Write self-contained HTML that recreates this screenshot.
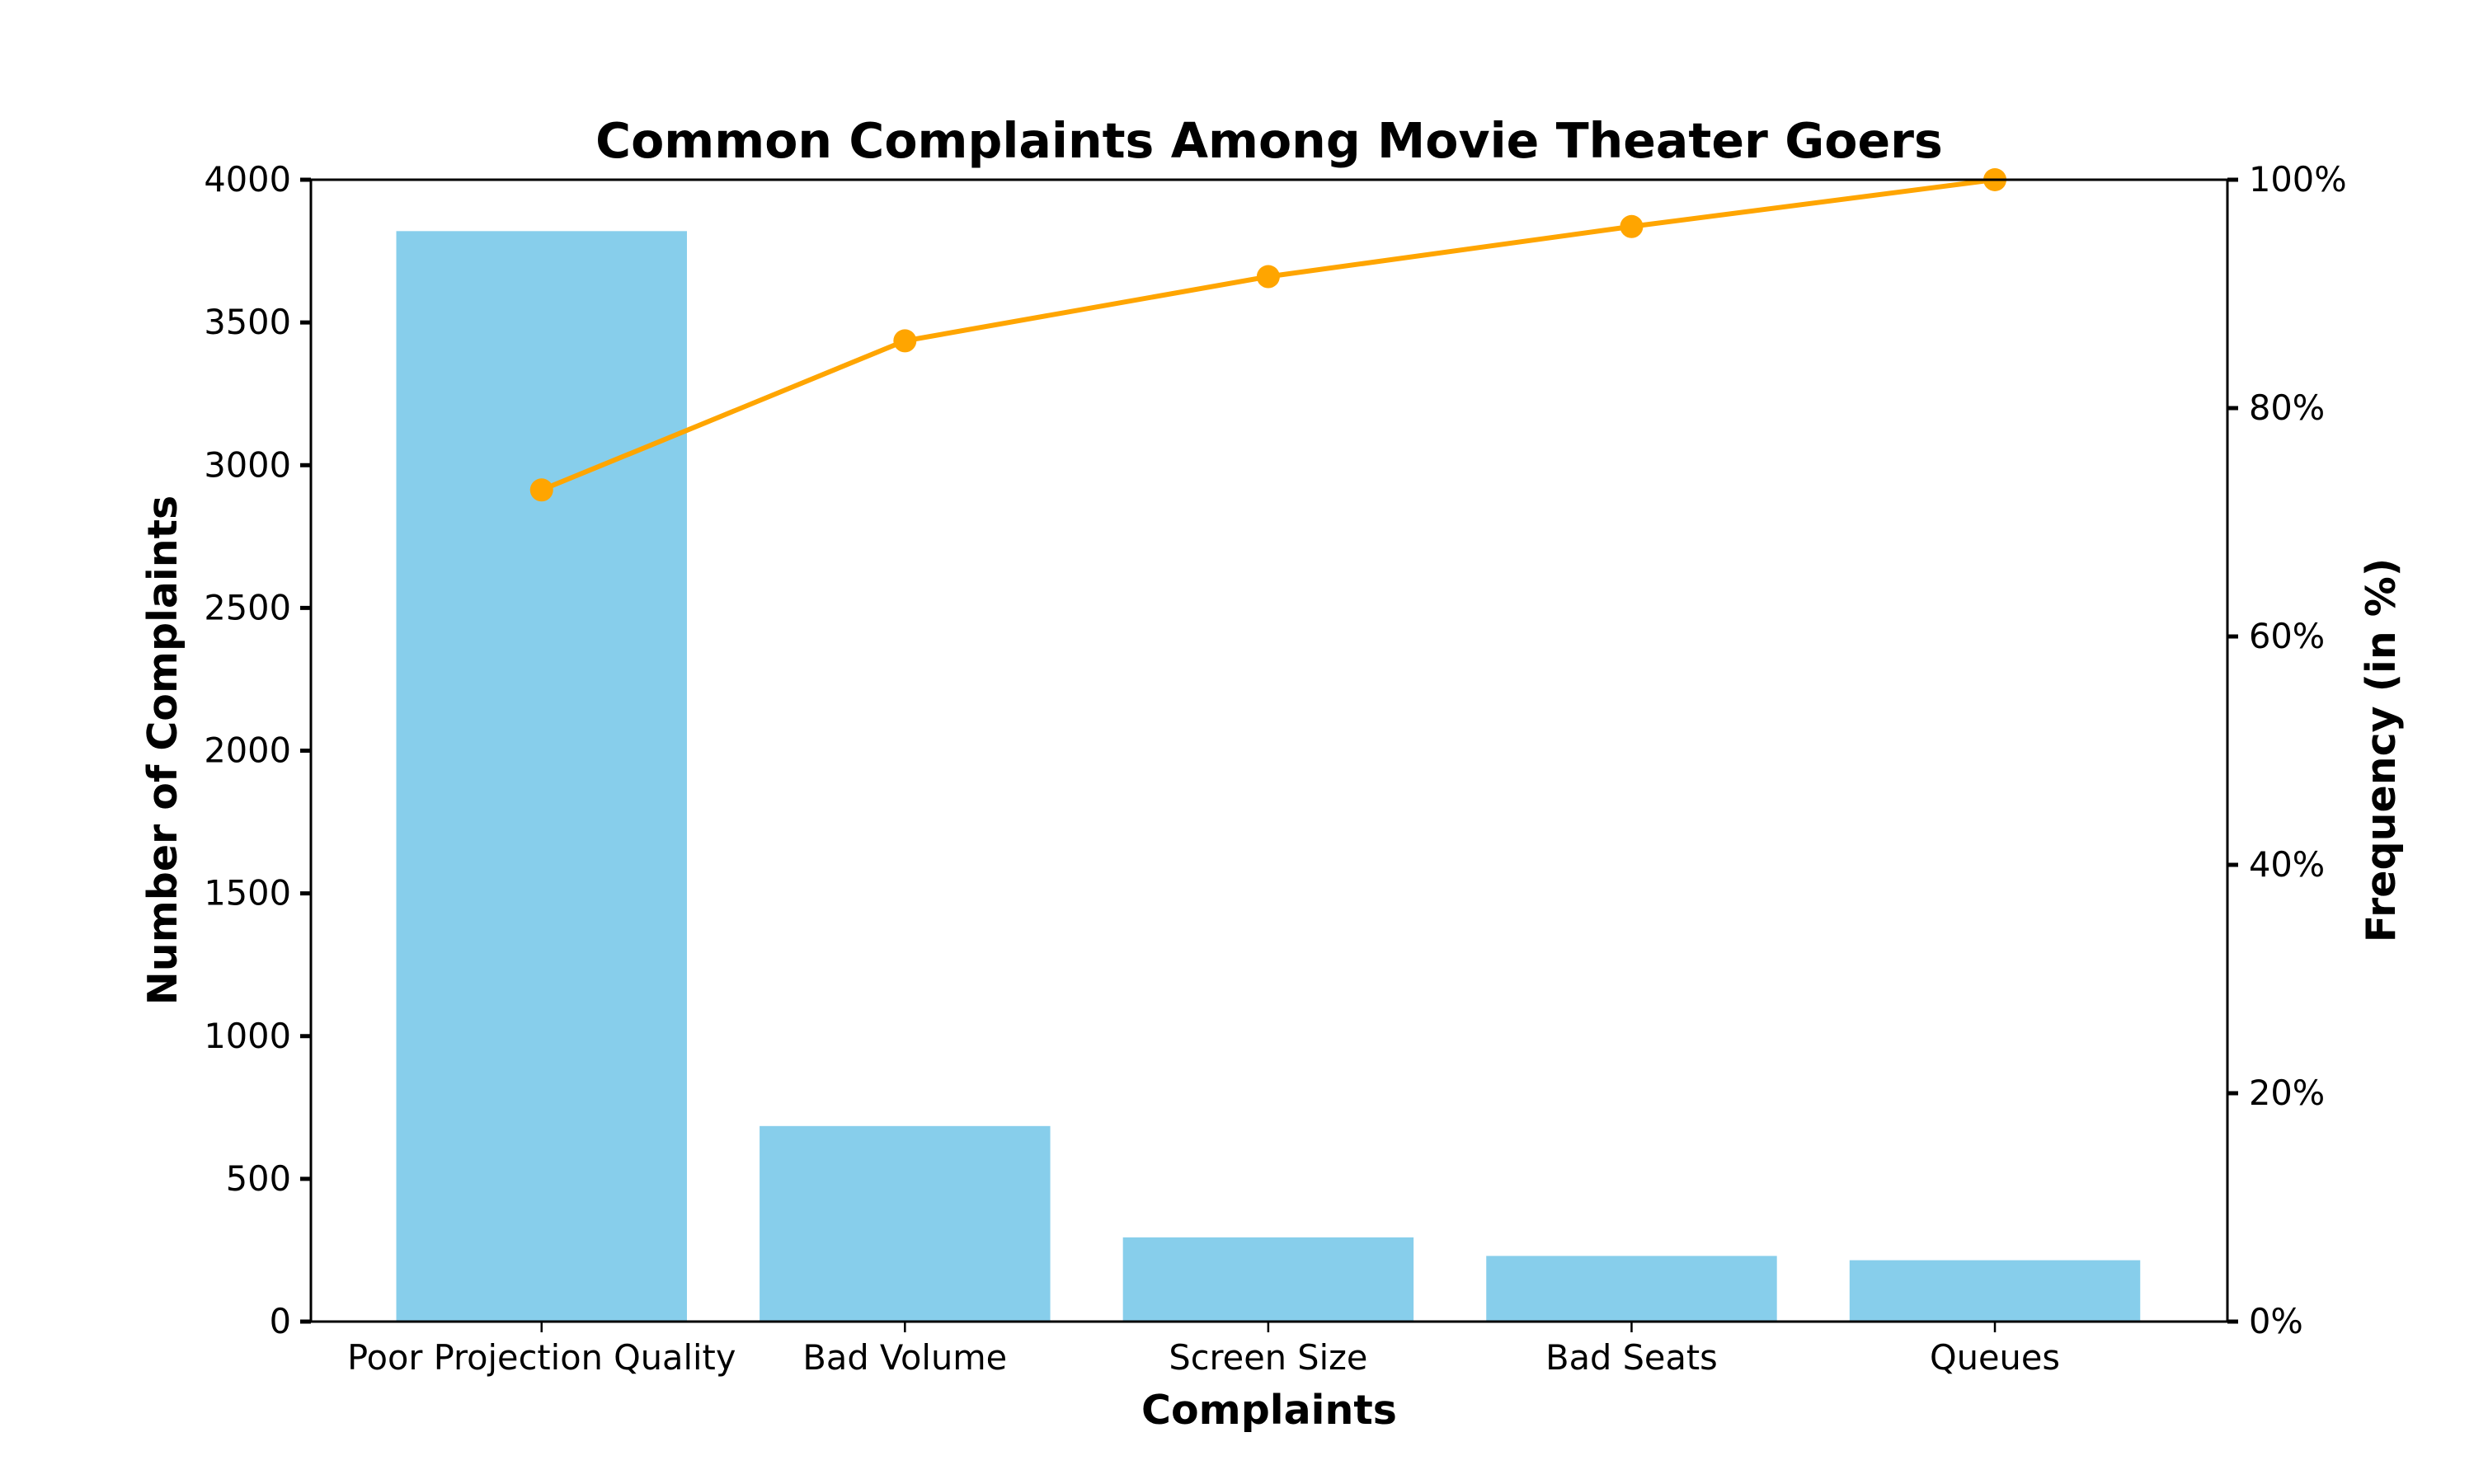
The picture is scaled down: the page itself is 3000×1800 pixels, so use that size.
<!DOCTYPE html>
<html><head><meta charset="utf-8"><style>
html,body{margin:0;padding:0;background:#fff}
svg{display:block;font-family:"DejaVu Sans","Liberation Sans",sans-serif}
</style></head><body>
<svg id="chart" width="3000" height="1800" viewBox="0 0 3000 1800">
<rect width="3000" height="1800" fill="#fff"/>
<text x="1539" y="191" font-size="58.5" font-weight="bold" text-anchor="middle">Common Complaints Among Movie Theater Goers</text>
<g id="bars"></g><g id="line"></g><g id="axes"></g>
<text x="1539" y="1727" font-size="49" font-weight="bold" text-anchor="middle">Complaints</text>
<text transform="translate(214,910) rotate(-90)" font-size="49" font-weight="bold" text-anchor="middle">Number of Complaints</text>
<text transform="translate(2904,910) rotate(-90)" font-size="49" font-weight="bold" text-anchor="middle">Frequency (in %)</text>
</svg>
<script>
const categories=["Poor Projection Quality","Bad Volume","Screen Size","Bad Seats","Queues"];
const counts=[3820,685,295,230,215];
const yTicks=[0,500,1000,1500,2000,2500,3000,3500,4000];
const y2Ticks=[0,20,40,60,80,100];
const NS="http://www.w3.org/2000/svg";
const L=377,R=2701,T=218,B=1603;
const xMin=-0.635,xMax=4.64;
const x=i=>L+(i-xMin)/(xMax-xMin)*(R-L);
const y=v=>B-v/4000*(B-T);
const y2=p=>B-p/100*(B-T);
const unit=(R-L)/(xMax-xMin);
function mk(tag,attrs,parent){const e=document.createElementNS(NS,tag);for(const k in attrs)e.setAttribute(k,attrs[k]);document.getElementById(parent).appendChild(e);return e;}
const total=counts.reduce((a,b)=>a+b,0);
let cum=0;const cumPct=counts.map(c=>{cum+=c;return cum/total*100;});
counts.forEach((c,i)=>{
 const r=mk('rect',{x:x(i)-0.4*unit,y:y(c),width:0.8*unit,height:B-y(c),fill:'#87ceeb'},'bars');
 
 
});
const pl=mk('polyline',{points:cumPct.map((p,i)=>x(i)+','+y2(p)).join(' '),fill:'none',stroke:'#ffa500','stroke-width':6},'line');


cumPct.forEach((p,i)=>{
 const m=mk('circle',{cx:x(i),cy:y2(p),r:14,fill:'#ffa500'},'line');
 
 
});
const fr=mk('rect',{x:L,y:T,width:R-L,height:B-T,fill:'none',stroke:'#000','stroke-width':3},'axes');


yTicks.forEach(v=>{
 mk('line',{x1:L-13,x2:L,y1:y(v),y2:y(v),stroke:'#000','stroke-width':5},'axes');
 const t=mk('text',{x:L-24,y:y(v)+14,'font-size':41.5,'text-anchor':'end'},'axes');t.textContent=v;
 
 
});
y2Ticks.forEach(v=>{
 mk('line',{x1:R,x2:R+13,y1:y2(v),y2:y2(v),stroke:'#000','stroke-width':5},'axes');
 const t=mk('text',{x:R+26,y:y2(v)+14,'font-size':41.5},'axes');t.textContent=v+'%';
 
 
});
categories.forEach((c,i)=>{
 mk('line',{x1:x(i),x2:x(i),y1:B,y2:B+13,stroke:'#000','stroke-width':2.5},'axes');
 const t=mk('text',{x:x(i),y:B+58,'font-size':41.5,'text-anchor':'middle'},'axes');t.textContent=c;
 
 
});
</script>
</body></html>
